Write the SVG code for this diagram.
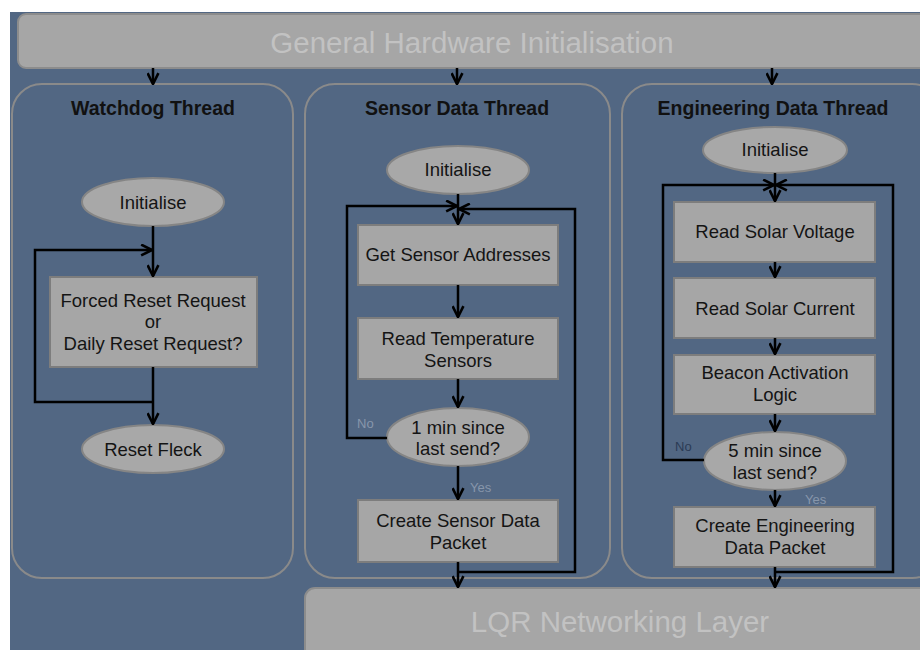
<svg xmlns="http://www.w3.org/2000/svg" width="920" height="650" viewBox="0 0 920 650">
  <defs>
    <marker id="arr" viewBox="0 0 12 12" refX="11" refY="6" markerWidth="13" markerHeight="13" markerUnits="userSpaceOnUse" orient="auto">
      <path d="M1,1 L11,6 L1,11" fill="none" stroke="#000" stroke-width="2.4"/>
    </marker>
    <style>
      .bar { fill: #a6a6a6; stroke: #8c8c8c; stroke-width: 2; }
      .bartext { font-family: "Liberation Sans", Arial, sans-serif; font-size: 29.5px; fill: #c2c2c2; text-anchor: middle; }
      .panel { fill: #526783; stroke: #8a8a8a; stroke-width: 2; }
      .title { font-family: "Liberation Sans", Arial, sans-serif; font-size: 19.5px; font-weight: bold; fill: #111; text-anchor: middle; }
      .box { fill: #a6a6a6; stroke: #7d7d7d; stroke-width: 2; }
      .oval { fill: #a8a8a8; stroke: #858585; stroke-width: 2; }
      .txt { font-family: "Liberation Sans", Arial, sans-serif; font-size: 18.5px; fill: #141414; text-anchor: middle; }
      .lbl { font-family: "Liberation Sans", Arial, sans-serif; font-size: 13px; fill: #8796ab; }
      .lbl.dark { fill: #2b3b55; }
      .wire { fill: none; stroke: #000; stroke-width: 2.5; }
    </style>
  </defs>

  <!-- canvas -->
  <rect x="0" y="0" width="920" height="650" fill="#ffffff"/>
  <rect x="10" y="12" width="910" height="638" fill="#526783"/>

  <!-- layers -->
  <g id="hw-init">
    <rect class="bar" x="18" y="14" width="912" height="54" rx="8"/>
    <text class="bartext" x="472" y="53">General Hardware Initialisation</text>
  </g>

  <!-- thread panels -->
  <g id="watchdog-thread">
    <rect class="panel" x="12" y="84" width="281" height="494" rx="30"/>
    <text class="title" x="153" y="115">Watchdog Thread</text>
  </g>
  <g id="sensor-thread">
    <rect class="panel" x="305" y="84" width="305" height="494" rx="30"/>
    <text class="title" x="457" y="115">Sensor Data Thread</text>
  </g>
  <g id="engineering-thread">
    <rect class="panel" x="622" y="84" width="320" height="494" rx="30"/>
    <text class="title" x="773" y="115">Engineering Data Thread</text>
  </g>

  <g id="lqr-layer">
    <rect class="bar" x="305" y="588" width="640" height="80" rx="10"/>
    <text class="bartext" x="620" y="632">LQR Networking Layer</text>
  </g>

  <!-- watchdog nodes -->
  <g id="wd-init">
    <ellipse class="oval" cx="153" cy="202" rx="71" ry="24"/>
    <text class="txt" x="153" y="209">Initialise</text>
  </g>
  <g id="wd-check">
    <rect class="box" x="50" y="277" width="207" height="90"/>
    <text class="txt" x="153" y="307">Forced Reset Request</text>
    <text class="txt" x="153" y="328">or</text>
    <text class="txt" x="153" y="350">Daily Reset Request?</text>
  </g>
  <g id="wd-reset">
    <ellipse class="oval" cx="153" cy="449" rx="71" ry="24"/>
    <text class="txt" x="153" y="455.5">Reset Fleck</text>
  </g>

  <!-- sensor nodes -->
  <g id="sd-init">
    <ellipse class="oval" cx="458" cy="170" rx="71" ry="24"/>
    <text class="txt" x="458" y="175.5">Initialise</text>
  </g>
  <g id="sd-addr">
    <rect class="box" x="358" y="225" width="200" height="60"/>
    <text class="txt" x="458" y="261">Get Sensor Addresses</text>
  </g>
  <g id="sd-temp">
    <rect class="box" x="358" y="318" width="200" height="61"/>
    <text class="txt" x="458" y="345">Read Temperature</text>
    <text class="txt" x="458" y="367">Sensors</text>
  </g>
  <g id="sd-wait">
    <ellipse class="oval" cx="458" cy="437" rx="71" ry="29"/>
    <text class="txt" x="458" y="434">1 min since</text>
    <text class="txt" x="458" y="455">last send?</text>
  </g>
  <g id="sd-packet">
    <rect class="box" x="358" y="500" width="200" height="62"/>
    <text class="txt" x="458" y="527">Create Sensor Data</text>
    <text class="txt" x="458" y="549">Packet</text>
  </g>

  <!-- engineering nodes -->
  <g id="ed-init">
    <ellipse class="oval" cx="775" cy="150" rx="72" ry="23"/>
    <text class="txt" x="775" y="155.5">Initialise</text>
  </g>
  <g id="ed-volt">
    <rect class="box" x="674" y="202" width="201" height="60"/>
    <text class="txt" x="775" y="237.5">Read Solar Voltage</text>
  </g>
  <g id="ed-curr">
    <rect class="box" x="674" y="278" width="201" height="60"/>
    <text class="txt" x="775" y="314.5">Read Solar Current</text>
  </g>
  <g id="ed-beacon">
    <rect class="box" x="674" y="355" width="201" height="59"/>
    <text class="txt" x="775" y="378.5">Beacon Activation</text>
    <text class="txt" x="775" y="401">Logic</text>
  </g>
  <g id="ed-wait">
    <ellipse class="oval" cx="775" cy="461" rx="71" ry="29"/>
    <text class="txt" x="775" y="456.5">5 min since</text>
    <text class="txt" x="775" y="478.5">last send?</text>
  </g>
  <g id="ed-packet">
    <rect class="box" x="674" y="507" width="201" height="60"/>
    <text class="txt" x="775" y="531.5">Create Engineering</text>
    <text class="txt" x="775" y="553.5">Data Packet</text>
  </g>

  <!-- connectors -->
  <g id="connectors">
    <!-- from hardware init into each thread -->
    <line class="wire" x1="153" y1="68" x2="153" y2="84" marker-end="url(#arr)"/>
    <line class="wire" x1="457" y1="68" x2="457" y2="84" marker-end="url(#arr)"/>
    <line class="wire" x1="772" y1="68" x2="772" y2="84" marker-end="url(#arr)"/>

    <!-- watchdog -->
    <line class="wire" x1="153" y1="226" x2="153" y2="276" marker-end="url(#arr)"/>
    <polyline class="wire" points="153,402 35,402 35,250 152,250" marker-end="url(#arr)"/>
    <line class="wire" x1="153" y1="367" x2="153" y2="424" marker-end="url(#arr)"/>

    <!-- sensor data -->
    <line class="wire" x1="458" y1="194" x2="458" y2="224" marker-end="url(#arr)"/>
    <polyline class="wire" points="387,438 347,438 347,206 457,206" marker-end="url(#arr)"/>
    <polyline class="wire" points="458,572 575,572 575,209 459,209" marker-end="url(#arr)"/>
    <line class="wire" x1="458" y1="285" x2="458" y2="317" marker-end="url(#arr)"/>
    <line class="wire" x1="458" y1="379" x2="458" y2="407" marker-end="url(#arr)"/>
    <line class="wire" x1="458" y1="466" x2="458" y2="499" marker-end="url(#arr)"/>
    <line class="wire" x1="458" y1="562" x2="458" y2="587" marker-end="url(#arr)"/>

    <!-- engineering data -->
    <line class="wire" x1="775" y1="173" x2="775" y2="201" marker-end="url(#arr)"/>
    <polyline class="wire" points="704,460 663,460 663,185 774,185" marker-end="url(#arr)"/>
    <polyline class="wire" points="775,572 893,572 893,185 776,185" marker-end="url(#arr)"/>
    <line class="wire" x1="775" y1="262" x2="775" y2="277" marker-end="url(#arr)"/>
    <line class="wire" x1="775" y1="338" x2="775" y2="354" marker-end="url(#arr)"/>
    <line class="wire" x1="775" y1="414" x2="775" y2="431" marker-end="url(#arr)"/>
    <line class="wire" x1="775" y1="490" x2="775" y2="506" marker-end="url(#arr)"/>
    <line class="wire" x1="775" y1="567" x2="775" y2="587" marker-end="url(#arr)"/>

    <!-- branch labels -->
    <text class="lbl" x="357" y="428">No</text>
    <text class="lbl" x="470" y="492">Yes</text>
    <text class="lbl dark" x="675" y="451">No</text>
    <text class="lbl" x="805" y="504">Yes</text>
  </g>
</svg>
